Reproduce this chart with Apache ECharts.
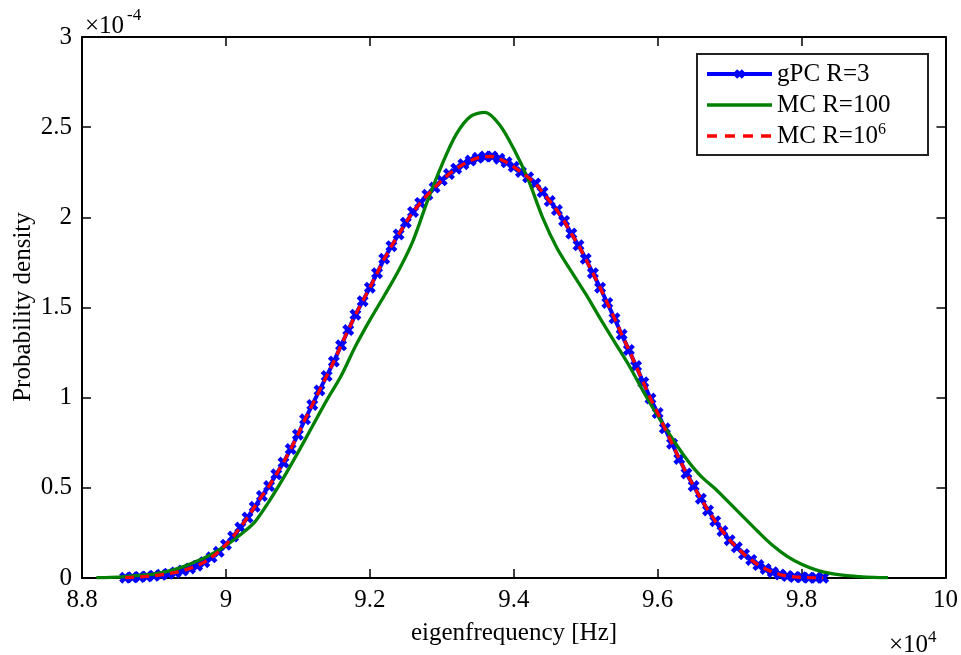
<!DOCTYPE html>
<html>
<head>
<meta charset="utf-8">
<script src="https://cdn.jsdelivr.net/npm/echarts@6/dist/echarts.min.js"></script>
<style>
html,body{margin:0;padding:0;background:#fff;}
#chart{width:961px;height:655px;}
</style>
</head>
<body>
<div id="chart"></div>
<script>
// x in units of 1e4 Hz, y in units of 1e-4
const gpcFreq = [8.86,8.87,8.88,8.89,8.90,8.91,8.92,8.93,8.94,8.95,8.96,8.97,8.98,8.99,
  9.00,9.01,9.02,9.03,9.04,9.05,9.06,9.07,9.08,9.09,9.10,9.11,9.12,9.13,9.14,9.15,9.16,9.17,9.18,9.19,
  9.20,9.21,9.22,9.23,9.24,9.25,9.26,9.27,9.28,9.29,9.30,9.31,9.32,9.33,9.34,9.35,9.36,9.37,9.38,9.39,
  9.40,9.41,9.42,9.43,9.44,9.45,9.46,9.47,9.48,9.49,9.50,9.51,9.52,9.53,9.54,9.55,9.56,9.57,9.58,9.59,
  9.60,9.61,9.62,9.63,9.64,9.65,9.66,9.67,9.68,9.69,9.70,9.71,9.72,9.73,9.74,9.75,9.76,9.77,9.78,9.79,
  9.80,9.81,9.82,9.83];
const gpcValues = [0.002,0.004,0.006,0.009,0.013,0.018,0.024,0.031,0.041,0.053,0.068,0.088,0.115,0.145,
  0.185,0.23,0.28,0.335,0.395,0.455,0.51,0.575,0.64,0.715,0.795,0.88,0.96,1.04,1.12,1.2,1.29,1.375,1.46,1.535,
  1.61,1.69,1.77,1.84,1.905,1.97,2.03,2.08,2.125,2.165,2.205,2.24,2.27,2.295,2.315,2.33,2.337,2.338,2.325,2.305,
  2.28,2.252,2.222,2.188,2.14,2.09,2.04,1.98,1.91,1.845,1.77,1.69,1.61,1.525,1.44,1.35,1.265,1.175,1.085,0.995,
  0.915,0.83,0.745,0.66,0.58,0.51,0.44,0.375,0.315,0.26,0.21,0.17,0.132,0.1,0.072,0.05,0.032,0.019,0.011,0.006,
  0.004,0.002,0.001,0.001];
const mc6Freq = gpcFreq;
const mc6Values = [0.002,0.004,0.006,0.009,0.013,0.018,0.024,0.031,0.041,0.053,0.068,0.088,0.115,0.145,
  0.185,0.23,0.28,0.335,0.395,0.455,0.51,0.575,0.64,0.715,0.795,0.88,0.96,1.04,1.12,1.2,1.29,1.375,1.46,1.535,
  1.61,1.69,1.77,1.84,1.905,1.97,2.03,2.08,2.125,2.165,2.205,2.24,2.27,2.295,2.315,2.33,2.337,2.338,2.325,2.305,
  2.28,2.252,2.222,2.188,2.14,2.09,2.04,1.98,1.91,1.845,1.77,1.69,1.61,1.525,1.44,1.35,1.265,1.175,1.085,0.995,
  0.915,0.83,0.745,0.66,0.58,0.51,0.44,0.375,0.315,0.26,0.21,0.17,0.132,0.1,0.072,0.05,0.032,0.019,0.011,0.006,
  0.004,0.002,0.001,0.001];
const mc100Freq = [8.82,8.84,8.86,8.88,8.90,8.92,8.94,8.96,8.98,9.00,9.02,9.04,9.06,9.08,9.10,9.12,9.14,9.16,9.18,
  9.20,9.22,9.24,9.26,9.28,9.30,9.32,9.34,9.36,9.38,9.40,9.42,9.44,9.46,9.48,9.50,9.52,9.54,9.56,9.58,
  9.60,9.62,9.64,9.66,9.68,9.70,9.72,9.74,9.76,9.78,9.80,9.82,9.84,9.86,9.88,9.90,9.92];
const mc100Values = [0.002,0.004,0.008,0.014,0.022,0.038,0.062,0.094,0.132,0.18,0.24,0.31,0.425,0.555,0.695,0.84,0.985,1.12,1.285,
  1.43,1.565,1.705,1.87,2.09,2.29,2.46,2.56,2.582,2.515,2.38,2.21,2.0,1.83,1.70,1.575,1.44,1.31,1.18,1.035,
  0.9,0.775,0.66,0.565,0.495,0.415,0.335,0.255,0.18,0.12,0.076,0.045,0.025,0.014,0.008,0.004,0.002];
const xTicks = {min: 8.8, max: 10, interval: 0.2};
const yTicks = {min: 0, max: 3, interval: 0.5};
const seriesNames = ['gPC R=3', 'MC R=100', 'MC R=10^6'];
const xName = 'eigenfrequency [Hz]';
const yName = 'Probability density';

const FONT = 'Liberation Serif';
const FS = 25;
const xPath = 'path://M2.6,0 L5,2.4 L7.4,0 L10,2.6 L7.6,5 L10,7.4 L7.4,10 L5,7.6 L2.6,10 L0,7.4 L2.4,5 L0,2.6 Z';

const pairs = (xs, ys) => xs.map((x, i) => [x, ys[i]]);

const axisCommon = {
  type: 'value',
  axisLine: {show: true, onZero: false, lineStyle: {color: '#000', width: 2}},
  axisTick: {show: true, inside: true, length: 9, lineStyle: {color: '#000', width: 1.5}},
  splitLine: {show: false},
};

const chart = echarts.init(document.getElementById('chart'), null, {renderer: 'canvas'});
chart.setOption({
  animation: false,
  backgroundColor: '#fff',
  grid: {left: 82, right: 15, top: 37, bottom: 77, containLabel: false},
  xAxis: [
    Object.assign({}, axisCommon, {position: 'bottom', min: xTicks.min, max: xTicks.max, interval: xTicks.interval,
      axisLabel: {show: true, color: '#000', fontFamily: FONT, fontSize: FS, margin: 10}}),
    Object.assign({}, axisCommon, {position: 'top', min: xTicks.min, max: xTicks.max, interval: xTicks.interval,
      axisLabel: {show: false}})
  ],
  yAxis: [
    Object.assign({}, axisCommon, {position: 'left', min: yTicks.min, max: yTicks.max, interval: yTicks.interval,
      axisLabel: {show: true, color: '#000', fontFamily: FONT, fontSize: FS, margin: 10}}),
    Object.assign({}, axisCommon, {position: 'right', min: yTicks.min, max: yTicks.max, interval: yTicks.interval,
      axisLabel: {show: false}})
  ],
  legend: {
    orient: 'vertical',
    left: 705, top: 60,
    padding: 0,
    itemWidth: 65, itemHeight: 12, itemGap: 3,
    z: 10,
    selectedMode: false,
    data: [
      {name: seriesNames[0], lineStyle: {width: 4}},
      {name: seriesNames[1], itemStyle: {opacity: 0}, lineStyle: {width: 3.5}},
      {name: seriesNames[2], itemStyle: {opacity: 0}, lineStyle: {width: 3.5, type: [10, 8]}}
    ],
    formatter: function (name) {
      return name === 'MC R=10^6' ? 'MC R=10{sup|6}' : name;
    },
    textStyle: {
      fontFamily: FONT, fontSize: FS, color: '#000', lineHeight: 28,
      rich: {sup: {fontFamily: FONT, fontSize: 16, verticalAlign: 'top', lineHeight: 16, color: '#000'}}
    }
  },
  graphic: [
    {type: 'rect', z: 3, shape: {x: 697, y: 54, width: 231, height: 101},
      style: {fill: '#fff', stroke: '#222', lineWidth: 2}},
    {type: 'text', x: 23, y: 307, rotation: Math.PI / 2,
      style: {text: yName, font: FS + 'px "' + FONT + '"', fill: '#000', align: 'center', verticalAlign: 'middle'}},
    {type: 'text', x: 514, y: 633,
      style: {text: xName, font: FS + 'px "' + FONT + '"', fill: '#000', align: 'center', verticalAlign: 'middle'}},
    {type: 'text', x: 85, y: 26,
      style: {text: '×10', font: FS + 'px "' + FONT + '"', fill: '#000', align: 'left', verticalAlign: 'middle'}},
    {type: 'text', x: 127, y: 16,
      style: {text: '-4', font: '17px "' + FONT + '"', fill: '#000', align: 'left', verticalAlign: 'middle'}},
    {type: 'text', x: 889, y: 645,
      style: {text: '×10', font: FS + 'px "' + FONT + '"', fill: '#000', align: 'left', verticalAlign: 'middle'}},
    {type: 'text', x: 928, y: 638,
      style: {text: '4', font: '17px "' + FONT + '"', fill: '#000', align: 'left', verticalAlign: 'middle'}}
  ],
  series: [
    {
      name: seriesNames[0], type: 'line', z: 2,
      data: pairs(gpcFreq, gpcValues),
      symbol: xPath, symbolSize: 12, showSymbol: true, showAllSymbol: true,
      itemStyle: {color: '#0000ff'},
      lineStyle: {color: '#0000ff', width: 4}
    },
    {
      name: seriesNames[1], type: 'line', z: 3,
      data: pairs(mc100Freq, mc100Values),
      symbol: 'none', smooth: 0.3,
      itemStyle: {color: '#008000'},
      lineStyle: {color: '#008000', width: 3.3}
    },
    {
      name: seriesNames[2], type: 'line', z: 4,
      data: pairs(mc6Freq, mc6Values),
      symbol: 'none',
      itemStyle: {color: '#ff0000'},
      lineStyle: {color: '#ff0000', width: 3.3, type: [9, 6]}
    }
  ]
});
</script>
</body>
</html>
